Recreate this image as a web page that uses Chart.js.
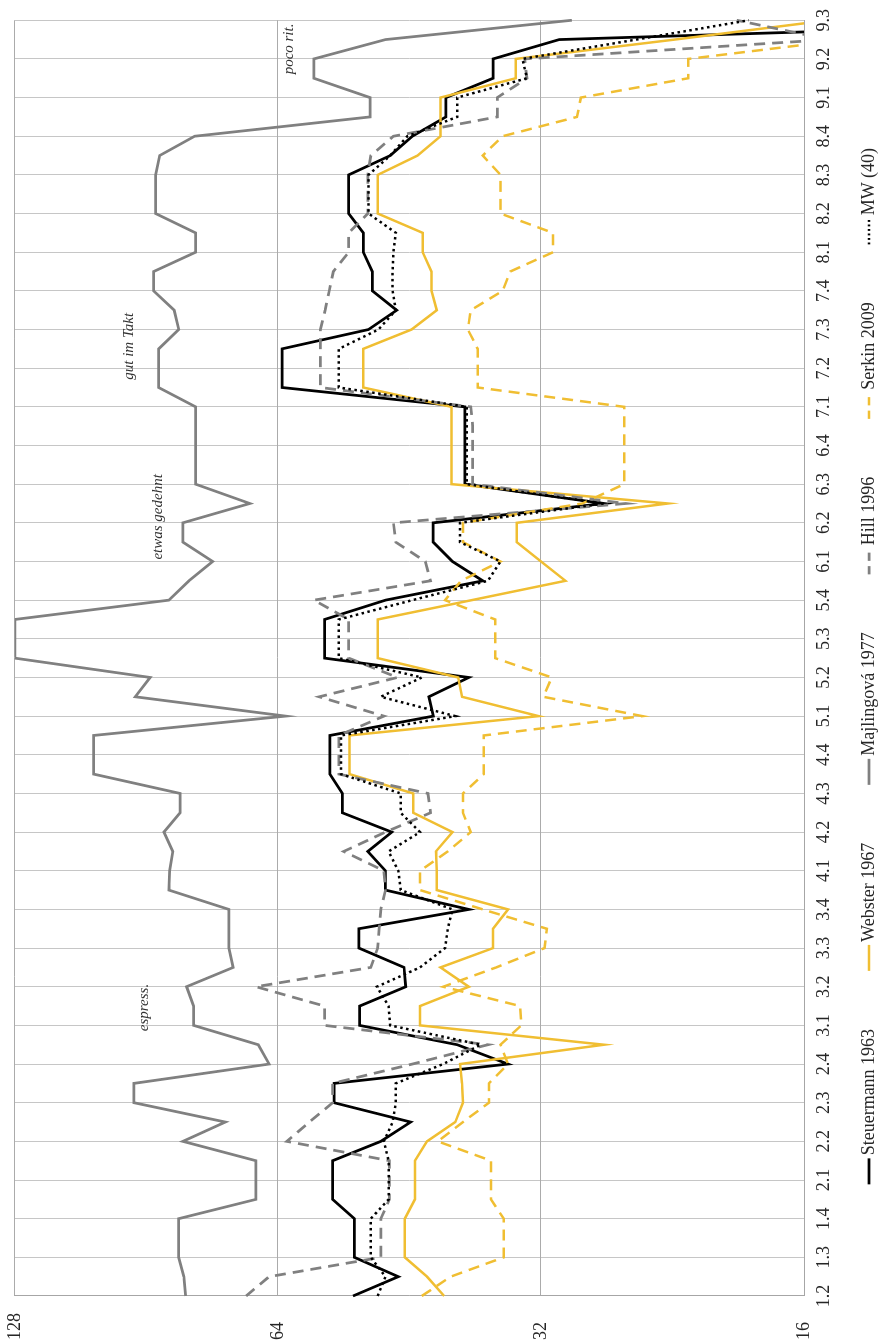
<!DOCTYPE html>
<html>
<head>
<meta charset="utf-8">
<script src="https://cdn.jsdelivr.net/npm/chart.js@4"></script>
<style>
  html, body { margin: 0; padding: 0; background: #fff; }
  #page { position: relative; width: 891px; height: 1344px; overflow: hidden; background: #fff; }
  /* the chart is laid out landscape and turned a quarter turn counter-clockwise */
  #turn { position: absolute; left: 0; top: 0; width: 1344px; height: 891px;
          transform-origin: 0 0; transform: translateY(1344px) rotate(-90deg); }
</style>
</head>
<body>
<div id="page"><div id="turn"><canvas id="c" width="1344" height="891"></canvas></div></div>
<script>
// Bar.beat labels shown on the category axis (one label every two beats)
const barLabels = ['1.2','1.3','1.4','2.1','2.2','2.3','2.4','3.1','3.2','3.3','3.4',
  '4.1','4.2','4.3','4.4','5.1','5.2','5.3','5.4','6.1','6.2','6.3','6.4',
  '7.1','7.2','7.3','7.4','8.1','8.2','8.3','8.4','9.1','9.2','9.3'];
const valueTicks = [16, 32, 64, 128];

// Tempo per half-bar for each recording
const steuermann = [52.5, 46.6, 52.3, 52.3, 52.3, 55.4, 55.4, 55.4, 48.8, 45.1,
  55.2, 55.2, 34.9, 39.9, 51.6, 51.6, 45.7, 45.9, 51.7, 51.7,
  38.7, 48.2, 48.2, 50.5, 47.4, 54.0, 54.0, 55.8, 55.8, 55.8,
  42.5, 43.0, 38.7, 56.6, 56.6, 56.6, 48.2, 37.3, 40.4, 42.5,
  42.5, 27.1, 39.1, 39.1, 39.1, 39.1, 39.1, 63.3, 63.3, 63.3,
  50.4, 46.8, 49.9, 49.9, 51.1, 51.1, 53.1, 53.1, 53.1, 47.6,
  44.9, 41.1, 41.1, 36.3, 36.3, 30.5, 6];
const webster = [41.3, 43.2, 45.8, 45.8, 45.8, 44.6, 44.6, 44.6, 43.2, 40.1,
  39.3, 39.4, 39.6, 27.1, 44.0, 44.0, 38.7, 41.7, 36.3, 36.3,
  34.9, 42.1, 42.1, 42.2, 40.4, 44.8, 44.8, 53.0, 53.0, 53.0,
  32.2, 39.4, 39.8, 49.2, 49.2, 49.2, 38.4, 30.0, 32.0, 34.1,
  34.1, 22.9, 40.5, 40.5, 40.5, 40.5, 40.5, 51.1, 51.1, 51.1,
  45.0, 42.1, 42.7, 42.7, 43.7, 43.7, 49.2, 49.2, 49.2, 44.3,
  41.7, 41.7, 41.7, 34.2, 34.2, 22.5, 15.0];
const majlingova = [81.6, 82.0, 83.1, 83.1, 83.1, 67.8, 67.8, 67.8, 82.2, 73.5,
  93.5, 93.5, 65.5, 67.4, 79.9, 79.9, 81.4, 72.0, 72.8, 72.8,
  72.8, 85.3, 85.1, 84.4, 86.4, 82.8, 82.8, 104.0, 104.0, 104.0,
  62.7, 93.2, 89.6, 128, 128, 128, 85.3, 80.9, 76.0, 82.2,
  82.2, 68.9, 79.5, 79.5, 79.5, 79.5, 79.5, 87.6, 87.6, 87.6,
  83.1, 84.1, 88.8, 88.8, 79.5, 79.5, 88.3, 88.3, 88.3, 87.4,
  79.7, 50.2, 50.2, 58.2, 58.2, 48.2, 29.5];
const hill = [69.6, 65.5, 48.8, 48.8, 48.8, 47.7, 47.7, 47.7, 62.5, 58.9,
  55.4, 55.4, 44.9, 36.8, 56.6, 56.6, 67.8, 50.1, 49.2, 49.0,
  48.8, 48.2, 48.4, 53.8, 48.2, 42.8, 43.1, 54.5, 54.5, 54.5,
  48.4, 57.4, 46.7, 53.1, 53.1, 53.1, 58.2, 42.8, 43.4, 46.9,
  47.2, 25.6, 38.3, 38.3, 38.3, 38.3, 38.5, 57.2, 57.2, 57.2,
  57.2, 56.5, 55.9, 55.3, 53.1, 53.1, 50.5, 50.5, 50.5, 50.1,
  47.2, 35.9, 35.9, 33.2, 33.4, 15.0, 19.1];
const serkin = [43.8, 40.6, 35.3, 35.3, 35.3, 36.5, 36.5, 36.5, 42.0, 39.3,
  36.7, 36.7, 34.9, 35.6, 33.7, 33.8, 41.4, 36.0, 31.7, 31.5,
  37.3, 44.0, 44.0, 40.9, 38.5, 39.3, 39.3, 37.2, 37.2, 37.2,
  24.5, 31.8, 31.1, 36.1, 36.1, 36.1, 41.2, 39.5, 35.6, 39.3,
  39.3, 28.7, 25.7, 25.7, 25.7, 25.7, 25.7, 37.8, 37.8, 37.8,
  38.8, 38.5, 35.4, 34.7, 31.0, 31.0, 35.6, 35.6, 35.6, 37.3,
  35.4, 29.1, 28.8, 21.7, 21.7, 14.3, 12];
const mw40 = [49.2, 48.2, 50.1, 50.1, 50.1, 47.8, 47.8, 47.8, 48.4, 47.3,
  46.9, 46.9, 41.4, 37.5, 47.6, 47.8, 49.3, 44.0, 41.2, 40.9,
  40.4, 46.3, 46.6, 47.8, 44.0, 46.3, 46.3, 54.2, 54.2, 54.2,
  40.1, 48.8, 43.8, 54.5, 54.5, 54.5, 44.9, 36.8, 35.6, 39.6,
  39.6, 27.1, 38.9, 38.9, 38.9, 38.9, 38.9, 54.5, 54.5, 54.5,
  49.1, 46.9, 47.3, 47.3, 47.2, 46.9, 50.4, 50.4, 50.4, 47.6,
  45.5, 39.9, 39.9, 33.2, 33.6, 24.9, 18.5];

// Performance markings written into the plot
const markings = [
  { text: 'espress.',      beat: 13.7, value: 91 },
  { text: 'etwas gedehnt', beat: 38.1, value: 87.7 },
  { text: 'gut im Takt',   beat: 47.4, value: 94.6 },
  { text: 'poco rit.',     beat: 63.2, value: 62.2 }
];

// one category per half bar: the bar label, then an unlabelled beat
const beats = [];
barLabels.forEach((b, i) => { beats.push(b); if (i < barLabels.length - 1) beats.push(''); });

const SERIF = '"Liberation Serif", "DejaVu Serif", serif';
const GOLD = '#F0BE32';
const GREY = '#808080';
const TEXT = '#262626';

const markingsPlugin = {
  id: 'markings',
  afterDatasetsDraw(chart) {
    const { ctx, scales: { x, y } } = chart;
    ctx.save();
    ctx.font = 'italic 15px ' + SERIF;
    ctx.fillStyle = '#333';
    ctx.textAlign = 'left';
    ctx.textBaseline = 'middle';
    markings.forEach(m => {
      const px = x.left + (x.right - x.left) * m.beat / (beats.length - 1);
      ctx.fillText(m.text, px, y.getPixelForValue(m.value));
    });
    ctx.restore();
  }
};

const keyPlugin = {
  id: 'seriesKey',
  afterDraw(chart) {
    const { ctx, chartArea: area } = chart;
    ctx.save();
    ctx.font = '18px ' + SERIF;
    ctx.textBaseline = 'middle';
    const sample = 26, gap = 3, space = 58;
    const items = chart.data.datasets.map(ds => ({ ds, w: ctx.measureText(ds.label).width }));
    const total = items.reduce((s, it) => s + sample + gap + it.w, 0) + space * (items.length - 1);
    let x = (area.left + area.right) / 2 - total / 2 - 8;
    const y = 869;
    items.forEach(it => {
      ctx.strokeStyle = it.ds.borderColor;
      ctx.lineWidth = it.ds.borderWidth;
      ctx.setLineDash((it.ds.borderDash || []).map(d => d * 0.75));
      ctx.beginPath();
      ctx.moveTo(x, y);
      ctx.lineTo(x + sample, y);
      ctx.stroke();
      ctx.setLineDash([]);
      ctx.fillStyle = TEXT;
      ctx.fillText(it.ds.label, x + sample + gap, y);
      x += sample + gap + it.w + space;
    });
    ctx.restore();
  }
};

function series(label, data, color, width, dash, order) {
  return { label, data, borderColor: color, backgroundColor: color, borderWidth: width,
           borderDash: dash, pointRadius: 0, pointHoverRadius: 0, tension: 0, fill: false, order };
}

new Chart(document.getElementById('c'), {
  type: 'line',
  data: {
    labels: beats,
    datasets: [
      series('Steuermann 1963', steuermann, '#000000', 2.75, [], 5),
      series('Webster 1967', webster, GOLD, 2.5, [], 4),
      series('Majlingová 1977', majlingova, GREY, 2.75, [], 3),
      series('Hill 1996', hill, GREY, 2.75, [11, 7], 2),
      series('Serkin 2009', serkin, GOLD, 2.5, [11, 7], 1),
      series('MW (40)', mw40, '#000000', 2.5, [2.5, 3.5], 0)
    ]
  },
  options: {
    responsive: false,
    animation: false,
    devicePixelRatio: 1,
    layout: { padding: { left: 4, right: 17, top: 13, bottom: 0 } },
    plugins: { legend: { display: false }, tooltip: { enabled: false } },
    scales: {
      x: {
        type: 'category',
        offset: false,
        afterFit: s => { s.height = 87; },
        grid: {
          drawTicks: false,
          color: c => (c.index % 2 === 0 ? '#c6c6c6' : 'rgba(0,0,0,0)'),
          lineWidth: 1
        },
        border: { color: '#a6a6a6', width: 1 },
        ticks: {
          autoSkip: false, maxRotation: 0, minRotation: 0, padding: 9,
          color: TEXT, font: { family: SERIF, size: 18 },
          callback: (v, i) => beats[i]
        }
      },
      y: {
        type: 'logarithmic',
        min: 16, max: 128,
        afterFit: s => { s.width = 44; },
        afterBuildTicks: s => { s.ticks = valueTicks.map(v => ({ value: v })); },
        grid: { drawTicks: false, color: '#ababab', lineWidth: 1 },
        border: { color: '#a6a6a6', width: 1 },
        ticks: {
          crossAlign: 'far', padding: 4,
          color: TEXT, font: { family: SERIF, size: 18 },
          callback: v => String(v)
        }
      }
    }
  },
  plugins: [markingsPlugin, keyPlugin]
});
</script>
</body>
</html>
